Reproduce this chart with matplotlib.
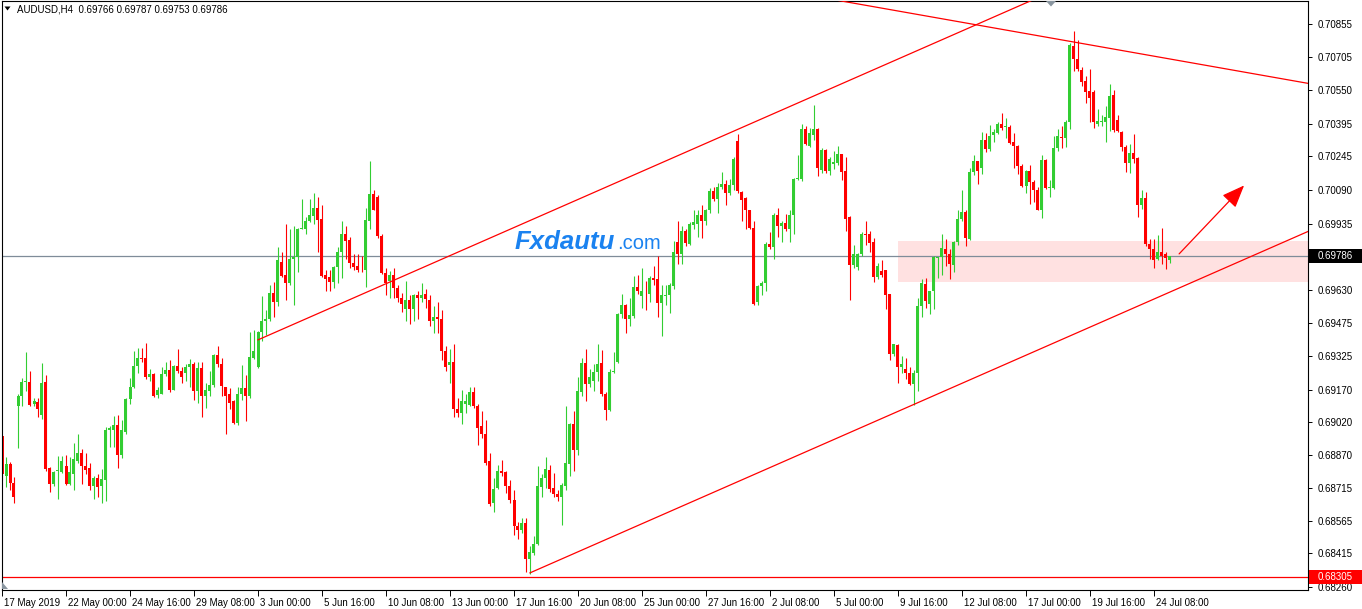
import numpy as np
import matplotlib
matplotlib.use('Agg')
import matplotlib.pyplot as plt
from matplotlib.patches import Rectangle, Polygon
from matplotlib.transforms import ScaledTranslation

plt.rcParams['font.family'] = ['Liberation Sans', 'DejaVu Sans']

## AUDUSD H4 candles (prices in points, 1e-5)
opens = [
    68955, 68773, 68826, 68740, 69096, 69140, 69206, 69206, 69105, 69114,
    69052, 69206, 68810, 68735, 68793, 68791, 68817, 68735, 68782, 68840,
    68876, 68817, 68810, 68724, 68761, 68726, 68752, 68982, 68982, 69008,
    68870, 68976, 69128, 69181, 69278, 69315, 69315, 69228, 69241, 69146,
    69149, 69241, 69258, 69170, 69278, 69255, 69246, 69276, 69290, 69163,
    69269, 69140, 69163, 69193, 69329, 69290, 69184, 69149, 69117, 69017,
    69149, 69176, 69140, 69317, 69276, 69435, 69484, 69493, 69617, 69572,
    69758, 69696, 69661, 69770, 69781, 69911, 69908, 69946, 69968, 70005,
    69955, 69696, 69687, 69666, 69736, 69802, 69886, 69860, 69752, 69740,
    69722, 69719, 69948, 70071, 70057, 69878, 69705, 69670, 69696, 69639,
    69590, 69541, 69581, 69541, 69608, 69590, 69611, 69581, 69484, 69505,
    69497, 69348, 69281, 69299, 69082, 69064, 69105, 69101, 69158, 69096,
    69004, 68967, 68840, 68646, 68717, 68793, 68791, 68726, 68659, 68541,
    68523, 68555, 68387, 68417, 68458, 68722, 68764, 68800, 68717, 68690,
    68673, 68726, 68828, 69013, 68893, 69158, 69294, 69197, 69211, 69251,
    69294, 69149, 69075, 69251, 69299, 69516, 69558, 69493, 69511, 69643,
    69599, 69617, 69611, 69682, 69678, 69567, 69599, 69604, 69647, 69849,
    69793, 69902, 69842, 69929, 69934, 69973, 69946, 69999, 70084, 70049,
    70102, 70116, 70075, 70111, 70317, 70079, 70052, 69996, 69913, 69572,
    69647, 69661, 69841, 69828, 69975, 69922, 69937, 69911, 69973, 70141,
    70141, 70372, 70293, 70345, 70371, 70182, 70274, 70179, 70211, 70216,
    70256, 70177, 69964, 69745, 69735, 69793, 69887, 69887, 69851, 69691,
    69717, 69722, 69611, 69334, 69375, 69273, 69264, 69246, 69197, 69246,
    69555, 69657, 69564, 69622, 69775, 69781, 69816, 69796, 69745, 69849,
    69957, 69990, 69864, 70172, 70222, 70190, 70322, 70281, 70343, 70354,
    70395, 70379, 70382, 70310, 70292, 70199, 70107, 70176, 70128, 70089,
    69999, 70229, 70098, 70098, 70284, 70335, 70331, 70402, 70754, 70692,
    70645, 70592, 70546, 70543, 70393, 70405, 70405, 70423, 70526, 70411,
    70357, 70289, 70214, 70259, 70236, 70022, 70054, 69843, 69818, 69772,
    69804, 69795, 69766]
highs = [
    68955, 68858, 68837, 68766, 69149, 69223, 69343, 69255, 69131, 69131,
    69294, 69237, 68814, 68796, 68863, 68863, 68867, 68858, 68923, 68964,
    68894, 68879, 68832, 68773, 68779, 68805, 68999, 69004, 69047, 69052,
    69029, 69131, 69223, 69347, 69361, 69361, 69386, 69264, 69246, 69181,
    69273, 69299, 69304, 69281, 69357, 69276, 69290, 69311, 69299, 69299,
    69299, 69202, 69255, 69334, 69369, 69317, 69184, 69176, 69123, 69184,
    69281, 69237, 69435, 69445, 69440, 69602, 69537, 69652, 69664, 69828,
    69802, 69934, 69908, 69926, 69916, 70049, 69966, 70049, 70075, 70058,
    70022, 69721, 69723, 69740, 69828, 69948, 69925, 69872, 69795, 69793,
    69784, 70005, 70225, 70089, 70066, 69886, 69731, 69717, 69731, 69652,
    69617, 69669, 69608, 69611, 69625, 69661, 69634, 69608, 69555, 69572,
    69537, 69370, 69357, 69382, 69131, 69170, 69149, 69184, 69184, 69105,
    69070, 69029, 68876, 68761, 68823, 68844, 68796, 68752, 68708, 68558,
    68576, 68576, 68447, 68496, 68817, 68779, 68858, 68823, 68787, 68708,
    68740, 69096, 69017, 69070, 69228, 69317, 69357, 69264, 69290, 69378,
    69352, 69158, 69264, 69343, 69523, 69611, 69564, 69590, 69693, 69696,
    69731, 69669, 69693, 69740, 69787, 69652, 69652, 69661, 69855, 69948,
    69925, 69911, 69943, 69999, 69996, 70022, 70004, 70098, 70105, 70123,
    70172, 70137, 70140, 70243, 70349, 70084, 70058, 69999, 69948, 69652,
    69669, 69851, 69894, 69985, 70005, 69946, 69978, 69996, 70146, 70252,
    70393, 70384, 70375, 70481, 70376, 70283, 70279, 70242, 70270, 70293,
    70256, 70243, 69969, 69837, 69801, 69894, 69948, 69899, 69869, 69752,
    69766, 69722, 69611, 69382, 69382, 69325, 69317, 69273, 69258, 69590,
    69678, 69682, 69625, 69784, 69781, 69887, 69864, 69819, 69857, 69999,
    70092, 69996, 70190, 70252, 70225, 70358, 70352, 70389, 70370, 70401,
    70446, 70420, 70391, 70352, 70296, 70208, 70181, 70204, 70137, 70102,
    70252, 70234, 70137, 70338, 70370, 70384, 70414, 70769, 70825, 70781,
    70657, 70613, 70648, 70551, 70463, 70437, 70476, 70580, 70550, 70437,
    70361, 70295, 70303, 70348, 70241, 70089, 70080, 69866, 69866, 69884,
    69914, 69804, 69787]
lows = [
    68752, 68722, 68708, 68646, 68899, 69096, 69163, 69096, 69093, 69043,
    69034, 68796, 68699, 68726, 68664, 68787, 68729, 68729, 68708, 68832,
    68735, 68779, 68708, 68664, 68673, 68646, 68655, 68906, 68906, 68810,
    68853, 68964, 69105, 69176, 69246, 69299, 69220, 69211, 69135, 69131,
    69149, 69234, 69158, 69170, 69246, 69202, 69211, 69184, 69123, 69110,
    69043, 69087, 69140, 69181, 69273, 69140, 68967, 69079, 69013, 69008,
    69123, 69026, 69131, 69313, 69269, 69396, 69422, 69488, 69505, 69555,
    69687, 69585, 69652, 69560, 69710, 69908, 69886, 69943, 69934, 69805,
    69687, 69622, 69622, 69639, 69661, 69683, 69770, 69732, 69719, 69710,
    69714, 69643, 69908, 69996, 69869, 69703, 69608, 69594, 69590, 69572,
    69528, 69484, 69470, 69488, 69493, 69572, 69546, 69461, 69431, 69431,
    69308, 69255, 69202, 69043, 69043, 69013, 69061, 69096, 69087, 68916,
    68946, 68823, 68634, 68606, 68712, 68770, 68694, 68646, 68500, 68482,
    68509, 68329, 68320, 68408, 68452, 68675, 68717, 68699, 68673, 68655,
    68546, 68708, 68770, 68796, 68867, 69140, 69117, 69184, 69163, 69211,
    69140, 69029, 69070, 69246, 69294, 69502, 69431, 69463, 69502, 69611,
    69546, 69537, 69572, 69652, 69505, 69417, 69558, 69523, 69634, 69749,
    69749, 69833, 69837, 69908, 69872, 69869, 69929, 69985, 70040, 69982,
    70093, 70019, 70066, 70088, 70075, 69946, 69908, 69908, 69558, 69558,
    69608, 69622, 69816, 69770, 69872, 69851, 69902, 69851, 69886, 70134,
    70129, 70296, 70290, 70322, 70154, 70168, 70168, 70159, 70187, 70205,
    70136, 69899, 69585, 69731, 69722, 69784, 69837, 69802, 69665, 69678,
    69687, 69541, 69304, 69326, 69202, 69246, 69220, 69193, 69100, 69163,
    69505, 69546, 69520, 69541, 69682, 69699, 69740, 69678, 69710, 69837,
    69946, 69833, 69858, 70158, 70119, 70164, 70264, 70269, 70313, 70349,
    70366, 70331, 70300, 70190, 70164, 70102, 70075, 70023, 70035, 69996,
    69961, 70095, 70058, 70095, 70271, 70285, 70287, 70370, 70639, 70639,
    70569, 70490, 70405, 70375, 70384, 70384, 70313, 70361, 70357, 70357,
    70268, 70175, 70170, 70214, 69964, 70000, 69831, 69772, 69729, 69768,
    69750, 69724, 69753]
closes = [
    68779, 68826, 68740, 68673, 69140, 69206, 69209, 69101, 69117, 69079,
    69202, 68805, 68735, 68791, 68796, 68840, 68735, 68791, 68849, 68876,
    68817, 68800, 68724, 68761, 68722, 68759, 68982, 68994, 69008, 68867,
    68982, 69128, 69181, 69278, 69315, 69313, 69228, 69241, 69140, 69167,
    69241, 69258, 69170, 69278, 69255, 69228, 69276, 69290, 69163, 69269,
    69140, 69167, 69193, 69329, 69290, 69188, 69140, 69110, 69017, 69149,
    69176, 69140, 69320, 69348, 69435, 69484, 69497, 69617, 69572, 69766,
    69692, 69661, 69770, 69781, 69911, 69913, 69946, 69973, 70005, 69952,
    69692, 69678, 69666, 69736, 69802, 69886, 69855, 69752, 69735, 69722,
    69719, 69952, 70071, 69999, 69878, 69705, 69661, 69699, 69639, 69594,
    69564, 69585, 69541, 69608, 69590, 69608, 69587, 69484, 69505, 69493,
    69348, 69276, 69299, 69079, 69064, 69117, 69117, 69158, 69096, 68994,
    68967, 68832, 68641, 68711, 68796, 68786, 68726, 68659, 68541, 68523,
    68553, 68387, 68422, 68458, 68726, 68764, 68805, 68711, 68690, 68673,
    68729, 68832, 69013, 68893, 69163, 69294, 69197, 69228, 69251, 69287,
    69149, 69075, 69251, 69255, 69516, 69558, 69493, 69514, 69643, 69625,
    69622, 69613, 69682, 69675, 69567, 69604, 69604, 69652, 69805, 69793,
    69902, 69846, 69934, 69940, 69973, 69946, 69999, 70084, 70049, 70102,
    70116, 70075, 70111, 70234, 70084, 70044, 69996, 69913, 69564, 69647,
    69661, 69841, 69828, 69975, 69922, 69937, 69911, 69973, 70141, 70146,
    70372, 70300, 70351, 70372, 70190, 70274, 70179, 70231, 70219, 70256,
    70174, 69957, 69745, 69793, 69793, 69887, 69883, 69846, 69691, 69740,
    69696, 69608, 69334, 69378, 69273, 69287, 69246, 69197, 69246, 69555,
    69661, 69576, 69625, 69779, 69779, 69823, 69793, 69749, 69849, 69957,
    69990, 69869, 70172, 70222, 70176, 70322, 70279, 70340, 70357, 70395,
    70377, 70382, 70305, 70291, 70199, 70107, 70176, 70128, 70088, 69999,
    70229, 70098, 70102, 70284, 70340, 70331, 70405, 70758, 70692, 70648,
    70587, 70543, 70516, 70405, 70410, 70410, 70428, 70521, 70366, 70361,
    70289, 70214, 70259, 70232, 70022, 70054, 69843, 69818, 69768, 69804,
    69786, 69777, 69786]

date_labels = ['17 May 2019', '22 May 00:00', '24 May 16:00', '29 May 08:00',
               '3 Jun 00:00', '5 Jun 16:00', '10 Jun 08:00', '13 Jun 00:00',
               '17 Jun 16:00', '20 Jun 08:00', '25 Jun 00:00', '27 Jun 16:00',
               '2 Jul 08:00', '5 Jul 00:00', '9 Jul 16:00', '12 Jul 08:00',
               '17 Jul 00:00', '19 Jul 16:00', '24 Jul 08:00']
date_bars = [0, 16, 32, 48, 64, 80, 96, 112, 128, 144, 160, 176,
             192, 208, 224, 240, 256, 272, 288]

price_ticks = [0.70855, 0.70705, 0.70550, 0.70395, 0.70245, 0.70090, 0.69935,
               0.69630, 0.69475, 0.69325, 0.69170, 0.69020, 0.68870, 0.68715,
               0.68565, 0.68415, 0.68260]

last_price = 0.69786
support = 0.68305
zone_lo, zone_hi, zone_bar = 0.69668, 0.69855, 224
upper_ch = [(64, 0.69399), (330, 0.71551)]
lower_ch = [(132, 0.68325), (330, 0.69927)]
down_tl = [(200, 0.70993), (330, 0.70570)]
arrow_from = (293.8, 0.69786)
arrow_to = (311.0, 0.70120)

GREEN = '#32CD32'
RED = '#FF0000'

##
o = np.array(opens) / 1e5
h = np.array(highs) / 1e5
l = np.array(lows) / 1e5
c = np.array(closes) / 1e5
h = np.maximum(h, np.maximum(o, c))
l = np.minimum(l, np.minimum(o, c))
x = np.arange(len(o))
col = np.where(c >= o, GREEN, RED)

W, H = 1362, 609
fig = plt.figure(figsize=(W / 100, H / 100), dpi=100)
ax = fig.add_axes([1.5 / W, 19 / H, 1306.5 / W, 589 / H])
ax.set_xlim(-0.125, 326.5)
ax.set_ylim(0.68246, 0.70961)

# support zone + horizontal lines
ax.add_patch(Rectangle((zone_bar, zone_lo), 340 - zone_bar, zone_hi - zone_lo,
                       fc='#FFE1E1', ec='none', zorder=0.5))
ax.axhline(last_price, color='#7F8C99', lw=0.9, zorder=1)
ax.axhline(support, color=RED, lw=0.9, zorder=1)

# candles
ax.vlines(x, l, h, colors=col, lw=0.8, zorder=2)
body = np.maximum(np.abs(c - o), 0.00004)
ax.bar(x, body, bottom=np.minimum(o, c), width=0.75, color=col, lw=0, zorder=2.5)

# trend lines
for (x0, y0), (x1, y1) in [upper_ch, lower_ch, down_tl]:
    ax.plot([x0, x1], [y0, y1], color=RED, lw=0.9, zorder=3)
ax.annotate('', xy=arrow_to, xytext=arrow_from,
            arrowprops=dict(arrowstyle='-|>,head_length=1.0,head_width=0.4',
                            color=RED, lw=0.9, mutation_scale=14), zorder=3)

# axes style
for s in ax.spines.values():
    s.set_linewidth(0.8)
ax.yaxis.tick_right()
ax.set_yticks(price_ticks)
ax.set_yticklabels(['%.5f' % p for p in price_ticks])
ax.tick_params(axis='y', direction='out', length=3, width=0.7, labelsize=7, pad=4)
ax.set_xticks(date_bars)
ax.set_xticklabels(date_labels)
ax.tick_params(axis='x', direction='out', length=4, width=0.7, labelsize=7, pad=1.5)
off = ScaledTranslation(2 / 100, 0, fig.dpi_scale_trans)
for lab in ax.get_xticklabels():
    lab.set_ha('left')
    lab.set_transform(lab.get_transform() + off)

# price boxes on the right scale
ytr = ax.get_yaxis_transform()
for p, fc in [(last_price, 'black'), (support, RED)]:
    ax.add_patch(Rectangle((1.0005, p - 0.00031), 0.041, 0.00062, transform=ytr,
                           fc=fc, ec='none', clip_on=False, zorder=5))
    ax.text(1.0075, p, '%.5f' % p, transform=ytr, color='white', fontsize=7,
            va='center', ha='left', clip_on=False, zorder=6)

# header
fig.text(17 / W, 1 - 9 / H, 'AUDUSD,H4  0.69766 0.69787 0.69753 0.69786',
         fontsize=7, va='center', ha='left')
fig.add_artist(Polygon([[4.5 / W, 1 - 6.5 / H], [10.5 / W, 1 - 6.5 / H], [7.5 / W, 1 - 10.5 / H]],
                       closed=True, fc='black', ec='none', transform=fig.transFigure))

# small gray markers
fig.add_artist(Polygon([[1046 / W, 1 - 1 / H], [1056 / W, 1 - 1 / H], [1051 / W, 1 - 6.5 / H]],
                       closed=True, fc='#8A96A0', ec='none', transform=fig.transFigure))
fig.add_artist(Polygon([[2 / W, 1 - 582 / H], [2 / W, 1 - 589 / H], [8 / W, 1 - 589 / H]],
                       closed=True, fc='#8A96A0', ec='none', transform=fig.transFigure))

# watermark: ".com" placed right after the measured "Fxdautu"
wm = fig.text(515 / W, 1 - 249 / H, 'Fxdautu', weight='bold', style='italic',
              fontsize=18.5, color='#1A82F0', va='baseline', ha='left')
fig.canvas.draw()
x_end = wm.get_window_extent().x1
fig.text((x_end + 2) / W, 1 - 249 / H, '.com', fontsize=14.5,
         color='#1A82F0', va='baseline', ha='left')

fig.savefig('out.png', dpi=100)
